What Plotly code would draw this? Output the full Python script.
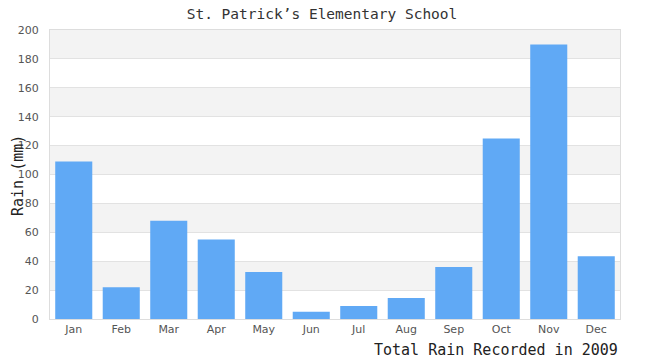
import plotly.graph_objects as go

months = ["Jan", "Feb", "Mar", "Apr", "May", "Jun", "Jul", "Aug", "Sep", "Oct", "Nov", "Dec"]
rain = [109, 22, 68, 55, 32.5, 5, 9, 14.5, 36, 125, 190, 43.5]
y_ticks = [0, 20, 40, 60, 80, 100, 120, 140, 160, 180, 200]

mono = "DejaVu Sans Mono"
sans = "DejaVu Sans"

fig = go.Figure()
fig.add_trace(go.Bar(x=months, y=rain, marker=dict(color="#60a9f5", line=dict(width=0)),
                     width=0.78))

shapes = []
for i in range(len(y_ticks) - 1):
    if i % 2 == 1:
        shapes.append(dict(type="rect", xref="paper", yref="y", x0=0, x1=1,
                           y0=y_ticks[i], y1=y_ticks[i + 1], fillcolor="#f3f3f3",
                           line=dict(width=0), layer="below"))

fig.update_layout(
    width=650, height=360,
    margin=dict(l=50, r=30, t=30, b=41),
    paper_bgcolor="white", plot_bgcolor="white",
    shapes=shapes,
    showlegend=False,
    bargap=0.22,
    title=dict(text="St. Patrick\u2019s Elementary School", x=322 / 650, xanchor="center",
               xref="container",
               y=1 - 13.5 / 360, yanchor="middle",
               font=dict(family=mono, size=14.5, color="#333")),
    xaxis=dict(showgrid=False, ticks="", tickfont=dict(family=sans, size=11, color="#555"),
               showline=True, linecolor="#dddddd", linewidth=1, mirror=True),
    yaxis=dict(range=[0, 200], tickvals=y_ticks, showgrid=True, gridcolor="#e2e2e2",
               gridwidth=1, zeroline=False, ticks="",
               tickfont=dict(family=sans, size=11, color="#555"),
               ticklabelstandoff=8,
               showline=True, linecolor="#dddddd", linewidth=1, mirror=True),
    annotations=[
        dict(text="Total Rain Recorded in 2009", xref="paper", yref="paper",
             x=1, y=0, xanchor="right", yanchor="middle",
             yshift=-31, showarrow=False,
             font=dict(family=mono, size=15, color="#222")),
        dict(text="Rain (mm)", xref="paper", yref="paper", textangle=-90,
             x=(18 - 50) / 570, y=(319 - 176) / 289, xanchor="center", yanchor="middle",
             showarrow=False, font=dict(family=mono, size=15, color="#222")),
    ],
)

fig.write_html("out.html")
